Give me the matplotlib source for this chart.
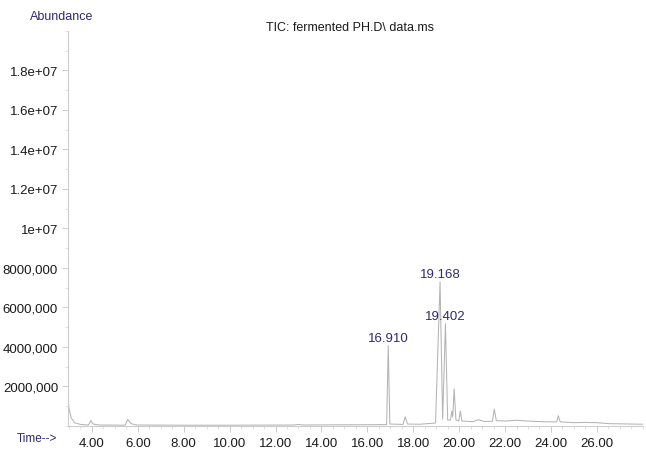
import matplotlib
matplotlib.use("Agg")
import matplotlib.pyplot as plt
from matplotlib.ticker import MultipleLocator

plt.rcParams['font.family'] = ['Liberation Sans', 'DejaVu Sans']

# TIC trace (retention time in min, abundance)
trace_time = [2.95, 3.0, 3.1, 3.25, 3.5, 3.85, 3.95, 4.05, 4.3,
              5.45, 5.56, 5.7, 5.95, 8.0, 10.0, 12.8, 13.0, 13.2, 15.0,
              16.84, 16.91, 16.98, 17.55, 17.65, 17.75, 18.3, 18.97,
              19.168, 19.28, 19.402, 19.5, 19.62, 19.68, 19.72, 19.78,
              19.86, 19.98, 20.05, 20.12, 20.6, 20.85, 21.1, 21.45,
              21.53, 21.62, 22.0, 22.5, 23.0, 23.8, 24.25, 24.32, 24.4,
              25.0, 25.5, 26.0, 26.5, 28.0]
trace_abund = [1.5e6, 9e5, 4e5, 1.6e5, 8e4, 5e4, 2.8e5, 1.0e5, 5e4,
               4e4, 3.4e5, 1.2e5, 5e4, 4e4, 4e4, 5e4, 8e4, 5e4, 6e4,
               7e4, 4.06e6, 1.0e5, 8e4, 4.6e5, 1.0e5, 9e4, 1.5e5,
               7.3e6, 3.5e5, 5.18e6, 3.0e5, 3.0e5, 7.5e5, 4.5e5, 1.88e6,
               3.0e5, 2.5e5, 7.6e5, 2.5e5, 2.2e5, 3.2e5, 2.3e5, 2.4e5,
               8.6e5, 2.7e5, 2.5e5, 2.9e5, 2.5e5, 2.1e5, 2.1e5, 5.2e5, 2.1e5,
               1.7e5, 1.8e5, 1.7e5, 1.2e5, 9e4]

# labelled peaks
peak_times = [16.910, 19.168, 19.402]
peak_labels = ["16.910", "19.168", "19.402"]

x_ticks = [4, 6, 8, 10, 12, 14, 16, 18, 20, 22, 24, 26]
x_tick_labels = ["4.00", "6.00", "8.00", "10.00", "12.00", "14.00",
                 "16.00", "18.00", "20.00", "22.00", "24.00", "26.00"]
y_ticks = [2e6, 4e6, 6e6, 8e6, 1e7, 1.2e7, 1.4e7, 1.6e7, 1.8e7]
y_tick_labels = ["2000,000", "4000,000", "6000,000", "8000,000", "1e+07",
                 "1.2e+07", "1.4e+07", "1.6e+07", "1.8e+07"]

navy = "#2f2a72"
axis_grey = "#cccccc"

fig = plt.figure(figsize=(6.46, 4.52), dpi=100)
ax = fig.add_axes([0.105, 0.0553, 0.89, 0.874])

ax.plot(trace_time, trace_abund, color="#b4b4b4", lw=0.75)

for t, lab in zip(peak_times, peak_labels):
    h = trace_abund[trace_time.index(t)]
    ax.annotate(lab, xy=(t, h), xytext=(0, 1), textcoords="offset points",
                ha="center", va="bottom", fontsize=9.5, color=navy)

ax.set_xlim(2.95, 28.0)
ax.set_ylim(0, 2.0e7)

ax.set_xticks(x_ticks)
ax.set_xticklabels(x_tick_labels)
ax.set_yticks(y_ticks)
ax.set_yticklabels(y_tick_labels)
ax.xaxis.set_minor_locator(MultipleLocator(0.5))
ax.yaxis.set_minor_locator(MultipleLocator(1e6))

for side in ["top", "right"]:
    ax.spines[side].set_visible(False)
for side in ["left", "bottom"]:
    ax.spines[side].set_color(axis_grey)
    ax.spines[side].set_linewidth(0.8)

ax.tick_params(axis="both", which="major", length=4, width=0.7,
               color=axis_grey, labelsize=9.5, labelcolor="#1a1a1a", pad=4)
ax.tick_params(axis="y", which="major", pad=3)
ax.tick_params(axis="both", which="minor", length=2.5, width=0.6,
               color="#dddddd")

fig.text(0.096, 0.962, "Abundance", ha="center", va="center",
         fontsize=9, color=navy)
fig.text(0.542, 0.937, "TIC: fermented PH.D\\ data.ms", ha="center",
         va="center", fontsize=9, color="#1a1a1a")
fig.text(0.057, 0.029, "Time-->", ha="center", va="center",
         fontsize=8.5, color=navy)

fig.savefig("out.png", dpi=100)
